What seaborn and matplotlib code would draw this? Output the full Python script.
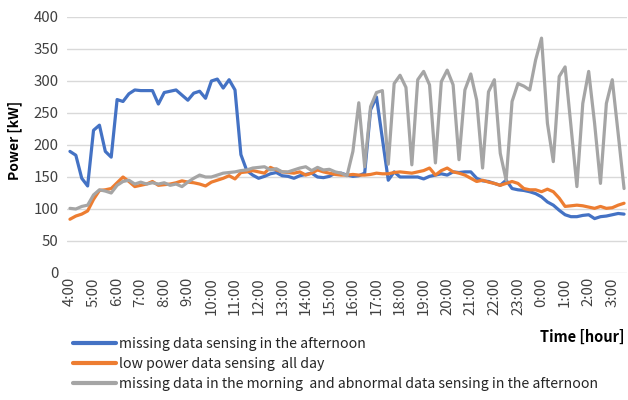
import matplotlib
matplotlib.use("Agg")
import matplotlib.pyplot as plt
import seaborn as sns
import pandas as pd
from matplotlib.lines import Line2D

# ---- data (15-minute samples from 4:00 to 3:30) ----
hours = [4, 5, 6, 7, 8, 9, 10, 11, 12, 13, 14, 15, 16, 17, 18, 19, 20, 21, 22, 23, 0, 1, 2, 3]
tick_labels = [f"{h}:00" for h in hours]

series_names = [
    "missing data sensing in the afternoon",
    "low power data sensing  all day",
    "missing data in the morning  and abnormal data sensing in the afternoon",
]

blue = [190, 184, 148, 136, 223, 231, 190, 181, 271, 268, 280, 286, 285, 285, 285, 264,
        282, 284, 286, 278, 270, 281, 284, 273, 300, 303, 289, 302, 286, 185, 160, 153,
        148, 151, 155, 157, 152, 151, 148, 152, 154, 156, 150, 149, 151, 156, 156, 153,
        151, 152, 156, 255, 275, 210, 145, 158, 150, 150, 150, 150, 147, 151, 153, 155,
        153, 158, 157, 158, 158, 148, 144, 143, 140, 137, 145, 132, 130, 129, 127, 124,
        119, 111, 106, 98, 91, 88, 88, 90, 91, 85, 88, 89, 91, 93, 92]

orange = [84, 89, 92, 97, 115, 129, 130, 132, 141, 150, 143, 135, 137, 139, 143, 137,
          138, 139, 141, 144, 142, 141, 139, 136, 142, 145, 148, 152, 147, 157, 158, 160,
          158, 156, 165, 161, 158, 157, 156, 158, 153, 156, 161, 158, 156, 154, 153, 153,
          154, 153, 153, 154, 156, 155, 155, 157, 158, 157, 156, 158, 160, 164, 153, 160,
          164, 158, 156, 153, 148, 143, 145, 142, 140, 137, 140, 143, 140, 132, 130, 130,
          127, 131, 127, 117, 104, 105, 106, 105, 103, 101, 104, 101, 102, 106, 109]

gray = [101, 100, 104, 106, 122, 130, 128, 125, 137, 143, 145, 139, 142, 139, 141, 139,
        141, 137, 139, 135, 142, 148, 153, 150, 150, 153, 156, 157, 158, 160, 161, 164,
        165, 166, 161, 163, 158, 158, 161, 164, 166, 160, 165, 161, 162, 158, 156, 152,
        190, 266, 166, 260, 282, 285, 170, 296, 309, 290, 169, 302, 315, 294, 172, 299,
        317, 294, 177, 286, 311, 270, 164, 283, 302, 187, 145, 268, 296, 292, 286, 333,
        367, 234, 174, 307, 322, 229, 135, 265, 315, 234, 140, 265, 302, 218, 132]

colors = ["#4472C4", "#ED7D31", "#A5A5A5"]

# ---- long-form table ----
frames = []
for name, vals in zip(series_names, [blue, orange, gray]):
    frames.append(pd.DataFrame({"idx": range(len(vals)), "power": vals, "series": name}))
df = pd.concat(frames, ignore_index=True)

sns.set_theme(style="white")
plt.rcParams["font.family"] = ["Noto Sans CJK KR", "DejaVu Sans"]

fig = plt.figure(figsize=(6.28, 4.0), dpi=100)
ax = fig.add_axes([67 / 628, 1 - 273 / 400, (627 - 67) / 628, (273 - 17) / 400])

sns.lineplot(data=df, x="idx", y="power", hue="series", hue_order=series_names,
             palette=colors, linewidth=2.3, ax=ax, legend=False, zorder=3)

ax.set_xlim(-0.5, 94.5)
ax.set_ylim(0, 400)
ax.set_yticks(range(0, 401, 50))
ax.set_xticks(range(0, 4 * len(hours), 4))
ax.set_xticklabels(tick_labels, rotation=90)
ax.tick_params(axis="both", length=0, labelsize=10.8, colors="#404040")
ax.tick_params(axis="x", pad=3)
ax.tick_params(axis="y", pad=6)
ax.set_xlabel("")
ax.set_ylabel("")
ax.yaxis.grid(True, color="#d9d9d9", linewidth=1.0)
ax.xaxis.grid(False)
for s in ax.spines.values():
    s.set_visible(False)

fig.text(15 / 628, 1 - 140 / 400, "Power [kW]", rotation=90, ha="center", va="center",
         fontsize=10, fontweight="bold", color="black")
fig.text(625 / 628, 1 - 337 / 400, "Time [hour]", ha="right", va="center",
         fontsize=10.5, fontweight="bold", color="black")

handles = [Line2D([0], [0], color=c, linewidth=3) for c in colors]
fig.legend(handles, series_names, loc="upper left", bbox_to_anchor=(73 / 628, 1 - 337 / 400),
           frameon=False, fontsize=10.2, handlelength=3.0, handletextpad=0.25,
           labelspacing=0.42, borderpad=0, borderaxespad=0)

fig.savefig("out.png", dpi=100)
